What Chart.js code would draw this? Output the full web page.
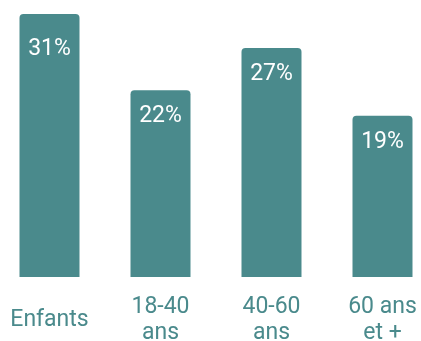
<!DOCTYPE html>
<html>
<head>
<meta charset="utf-8">
<script src="https://cdn.jsdelivr.net/npm/chart.js@4/dist/chart.umd.min.js"></script>
<style>
  html, body { margin: 0; padding: 0; background: #ffffff; overflow: hidden; width: 421px; height: 341px; }
  #page { position: relative; width: 421px; height: 341px; overflow: hidden; }
  #wrap { position: absolute; left: -6px; top: 0; width: 444px; height: 341px; }
</style>
</head>
<body>
<div id="page"><div id="wrap"><canvas id="c"></canvas></div></div>
<script>
const categories = [['Enfants'], ['18-40', 'ans'], ['40-60', 'ans'], ['60 ans', 'et +']];
const values = [31, 22, 27, 19];
const valueSuffix = '%';

const TEAL = '#4a8a8c';

const barLabels = {
  id: 'barLabels',
  afterDatasetsDraw(chart) {
    const ctx = chart.ctx;
    const meta = chart.getDatasetMeta(0);
    ctx.save();
    ctx.fillStyle = '#ffffff';
    ctx.font = '23px Roboto';
    ctx.textAlign = 'center';
    ctx.textBaseline = 'alphabetic';
    meta.data.forEach((bar, i) => {
      const y = Math.max(bar.y + 23.5, chart.chartArea.top + 46.5) + 8.2;
      ctx.fillText(values[i] + valueSuffix, bar.x, y);
    });
    ctx.restore();
  }
};

new Chart(document.getElementById('c'), {
  type: 'bar',
  data: {
    labels: categories,
    datasets: [{
      data: values,
      backgroundColor: TEAL,
      borderWidth: 0,
      borderRadius: { topLeft: 4, topRight: 4, bottomLeft: 0, bottomRight: 0 },
      borderSkipped: 'bottom',
      categoryPercentage: 1,
      barPercentage: 0.5405
    }]
  },
  options: {
    responsive: true,
    maintainAspectRatio: false,
    animation: false,
    layout: { padding: 0, autoPadding: false },
    plugins: {
      legend: { display: false },
      tooltip: { enabled: false },
      title: { display: false }
    },
    scales: {
      x: {
        grid: { display: false, drawTicks: false },
        border: { display: false },
        afterFit(scale) {
          scale.height = 64;
          scale.paddingLeft = 0;
          scale.paddingRight = 0;
        },
        ticks: {
          color: TEAL,
          font: { family: 'Roboto', size: 23, lineHeight: 1.14 },
          padding: 30,
          crossAlign: 'center',
          maxRotation: 0,
          minRotation: 0,
          autoSkip: false
        }
      },
      y: {
        display: false,
        min: 0,
        max: 32.65
      }
    }
  },
  plugins: [barLabels]
});
</script>
</body>
</html>
